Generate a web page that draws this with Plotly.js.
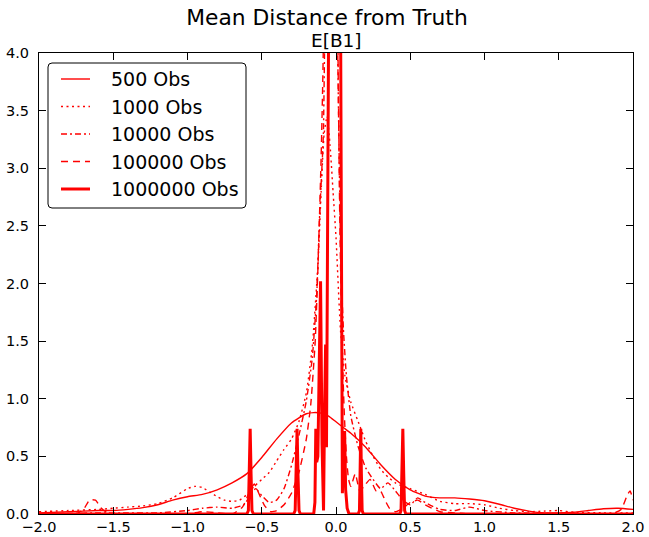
<!DOCTYPE html>
<html>
<head>
<meta charset="utf-8">
<script src="https://cdn.plot.ly/plotly-3.0.1.min.js"></script>
<style>html,body{margin:0;padding:0;background:#fff;}#chart{width:649px;height:537px;}</style>
</head>
<body>
<div id="chart"></div>
<script>
const seriesNames = ['500 Obs', '1000 Obs', '10000 Obs', '100000 Obs', '1000000 Obs'];

const x500 = [-2,-1.8,-1.6,-1.5,-1.4,-1.3,-1.2,-1.1,-1.0,-0.9,-0.8,-0.7,-0.6,-0.5,-0.4,-0.3,-0.2,-0.15,-0.1,-0.05,0,0.05,0.1,0.2,0.3,0.4,0.5,0.6,0.7,0.8,0.9,1.0,1.1,1.2,1.3,1.4,1.5,1.6,1.7,1.8,1.9,2.0];
const y500 = [0.01,0.02,0.03,0.03,0.04,0.055,0.08,0.12,0.15,0.17,0.21,0.27,0.35,0.49,0.65,0.79,0.87,0.88,0.875,0.85,0.8,0.75,0.7,0.58,0.43,0.3,0.21,0.155,0.14,0.14,0.13,0.115,0.085,0.05,0.025,0.01,0.01,0.015,0.03,0.045,0.05,0.04];

const x1000 = [-2,-1.8,-1.6,-1.5,-1.4,-1.3,-1.2,-1.1,-1.0,-0.95,-0.9,-0.85,-0.8,-0.75,-0.7,-0.65,-0.6,-0.55,-0.5,-0.45,-0.4,-0.35,-0.3,-0.25,-0.2,-0.16,-0.12,-0.1,-0.08,-0.06,-0.04,-0.02,0,0.03,0.06,0.1,0.15,0.2,0.25,0.3,0.35,0.4,0.45,0.5,0.6,0.7,0.8,0.9,1.0,1.1,1.2,1.3,1.4,1.5,1.6,1.8,2.0];
const y1000 = [0.02,0.03,0.04,0.05,0.06,0.07,0.09,0.14,0.22,0.24,0.23,0.19,0.15,0.12,0.11,0.12,0.17,0.24,0.3,0.36,0.46,0.56,0.65,0.8,1.05,1.45,2.2,2.8,3.3,3.45,3.2,2.8,2.4,1.6,1.2,0.97,0.8,0.63,0.5,0.39,0.32,0.27,0.24,0.22,0.17,0.11,0.09,0.09,0.08,0.05,0.03,0.02,0.025,0.03,0.015,0.01,0.01];

const x10k = [-2,-1.8,-1.6,-1.4,-1.2,-1.0,-0.9,-0.8,-0.7,-0.62,-0.57,-0.54,-0.5,-0.45,-0.4,-0.35,-0.3,-0.25,-0.2,-0.16,-0.13,-0.11,-0.095,-0.085,-0.075,-0.04,0.0,0.01,0.02,0.035,0.05,0.07,0.1,0.15,0.2,0.25,0.3,0.35,0.4,0.45,0.5,0.55,0.6,0.7,0.8,0.9,1.0,1.2,1.5,2.0];
const y10k = [0,0.005,0.01,0.01,0.01,0.03,0.05,0.06,0.05,0.08,0.18,0.22,0.16,0.1,0.12,0.22,0.42,0.68,0.98,1.35,1.9,2.6,3.0,3.3,4.2,6,6,4.2,3.2,2.1,1.6,1.2,0.85,0.58,0.4,0.3,0.22,0.27,0.2,0.12,0.08,0.14,0.1,0.04,0.03,0.06,0.03,0.01,0.005,0];

const x100k = [-2,-1.75,-1.7,-1.66,-1.62,-1.58,-1.54,-1.5,-1.0,-0.9,-0.8,-0.7,-0.63,-0.58,-0.55,-0.52,-0.48,-0.44,-0.4,-0.35,-0.3,-0.25,-0.2,-0.17,-0.14,-0.12,-0.1,-0.09,-0.08,-0.04,0.0,0.012,0.025,0.04,0.055,0.07,0.085,0.1,0.13,0.16,0.2,0.23,0.27,0.3,0.33,0.36,0.4,0.45,0.5,0.55,0.6,0.7,0.8,0.9,1.85,1.92,1.96,1.98,2.0];
const y100k = [0,0,0.04,0.12,0.12,0.05,0.01,0,0,0.02,0.01,0,0.06,0.2,0.26,0.18,0.07,0.02,0.03,0.08,0.18,0.36,0.65,0.95,1.5,2.2,3.1,3.7,4.4,6,6,4.2,2.6,1.5,0.9,0.5,0.3,0.24,0.35,0.2,0.26,0.3,0.2,0.2,0.12,0.05,0.02,0.05,0.1,0.12,0.08,0.02,0.01,0,0,0.04,0.16,0.2,0.12];

const x1m = [-2,-0.6,-0.59,-0.584,-0.578,-0.572,-0.566,-0.556,-0.285,-0.275,-0.268,-0.262,-0.256,-0.249,-0.24,-0.15,-0.142,-0.136,-0.13,-0.122,-0.114,-0.104,-0.094,-0.084,-0.077,-0.07,-0.064,-0.056,-0.047,-0.035,0.02,0.032,0.043,0.05,0.058,0.065,0.075,0.088,0.15,0.158,0.163,0.167,0.171,0.176,0.184,0.43,0.438,0.444,0.45,0.456,0.462,0.47,2.0];
const y1m = [0,0,0.03,0.35,0.74,0.35,0.03,0,0,0.03,0.35,0.74,0.35,0.03,0,0,0.1,0.74,0.45,0.5,1.2,2.02,0.6,0.03,0.9,1.47,0.58,2.5,5,8,8,4,0.18,0.45,0.72,0.21,0.05,0,0,0.03,0.35,0.74,0.35,0.03,0,0,0.03,0.35,0.74,0.35,0.03,0,0];

const RED = '#ff0000';
const FONT = 'DejaVu Sans, sans-serif';

// line styles per series (style, not data)
const lineWidths = [1.4, 1.4, 1.4, 1.4, 3];
const lineDashes = ['solid', '2px,3.5px', '6px,3px,2px,3px', '7px,5px', 'solid'];
const makeLine = i => ({color: RED, width: lineWidths[i], dash: lineDashes[i]});

const xs = [x500, x1000, x10k, x100k, x1m];
const ys = [y500, y1000, y10k, y100k, y1m];

const traces = xs.map((xv, i) => ({
  x: xv, y: ys[i], name: seriesNames[i], mode: 'lines', showlegend: false,
  line: Object.assign(makeLine(i), i < 4 ? {shape: 'spline', smoothing: 0.5} : {})
}));

// plot area geometry in pixels
const W = 649, H = 537, ML = 39, MR = 16, MT = 53, MB = 23;
const PW = W - ML - MR, PH = H - MT - MB;
const px2x = px => (px - ML) / PW;
const py2y = py => (H - MB - py) / PH;

// hand-made legend (matplotlib style)
const LB = {l: 48, r: 246, t: 63, b: 208, rad: 4};
const legendRows = [79, 106.5, 134, 161.5, 189];
const shapes = [];
{
  const x0 = px2x(LB.l), x1 = px2x(LB.r), y1 = py2y(LB.t), y0 = py2y(LB.b);
  const dx = LB.rad / PW, dy = LB.rad / PH;
  const p = `M${x0+dx},${y1} L${x1-dx},${y1} Q${x1},${y1} ${x1},${y1-dy} L${x1},${y0+dy} Q${x1},${y0} ${x1-dx},${y0} L${x0+dx},${y0} Q${x0},${y0} ${x0},${y0+dy} L${x0},${y1-dy} Q${x0},${y1} ${x0+dx},${y1} Z`;
  shapes.push({type: 'path', xref: 'paper', yref: 'paper', path: p, fillcolor: '#ffffff',
               line: {color: '#000000', width: 1}, layer: 'above'});
}
const annotations = [];
legendRows.forEach((py, i) => {
  shapes.push({type: 'line', xref: 'paper', yref: 'paper', x0: px2x(61), x1: px2x(90),
               y0: py2y(py), y1: py2y(py), line: makeLine(i), layer: 'above'});
  annotations.push({text: seriesNames[i], xref: 'paper', yref: 'paper', x: px2x(109), y: py2y(py),
                    xanchor: 'left', yanchor: 'middle', showarrow: false,
                    font: {family: FONT, size: 19, color: '#000'}});
});
annotations.push({text: 'E[B1]', xref: 'paper', yref: 'paper', x: 0.5, y: py2y(40),
                  xanchor: 'center', yanchor: 'middle', showarrow: false,
                  font: {family: FONT, size: 18.5, color: '#000'}});

const axisCommon = {
  showgrid: false, zeroline: false, showline: true, linecolor: '#000', linewidth: 1,
  mirror: 'ticks', ticks: 'inside', ticklen: 7, tickcolor: '#000', tickwidth: 1,
  tickfont: {family: FONT, size: 14.5, color: '#000'}, tickformat: '.1f', dtick: 0.5
};

const layout = {
  width: W, height: H,
  margin: {l: ML, r: MR, t: MT, b: MB, pad: 0},
  paper_bgcolor: '#fff', plot_bgcolor: '#fff',
  title: {text: 'Mean Distance from Truth', font: {family: FONT, size: 21.8, color: '#000'},
          xref: 'container', x: 327 / W, xanchor: 'center', yref: 'container', y: 1 - 17 / H, yanchor: 'middle'},
  xaxis: Object.assign({}, axisCommon, {range: [-2, 2], tick0: -2}),
  yaxis: Object.assign({}, axisCommon, {range: [0, 4], tick0: 0, ticklabelstandoff: 6}),
  showlegend: false,
  shapes: shapes,
  annotations: annotations
};

Plotly.newPlot('chart', traces, layout, {displayModeBar: false, staticPlot: true});
</script>
</body>
</html>
